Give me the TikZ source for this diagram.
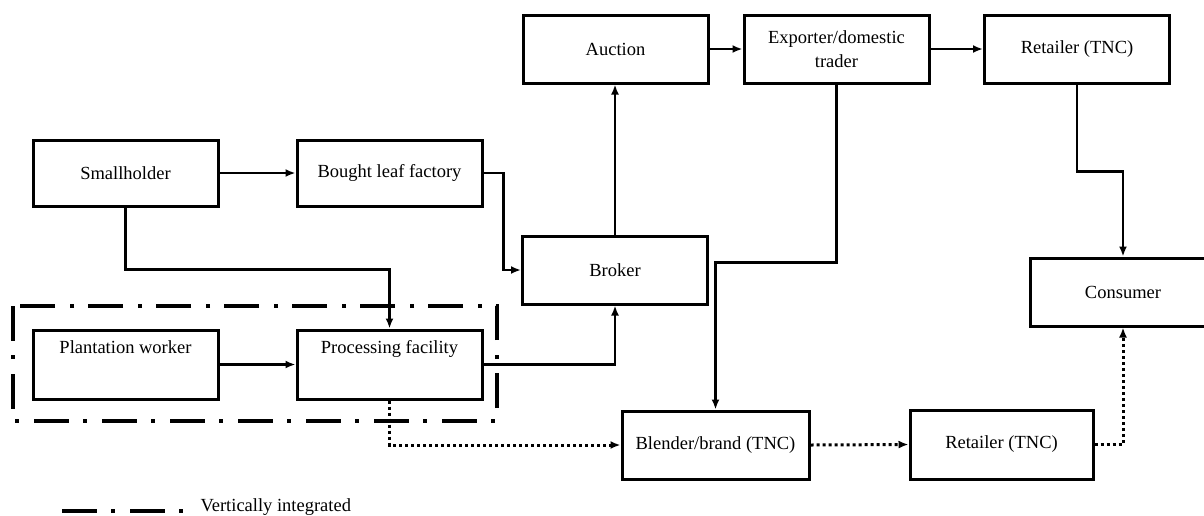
\documentclass[tikz,border=0pt]{standalone}
\usepackage{fontspec}
\setmainfont{Liberation Serif}
\usetikzlibrary{arrows.meta}
\begin{document}
\begin{tikzpicture}[x=1pt,y=-1pt,
  box/.style={draw, line width=3pt, minimum width=185pt, minimum height=68pt, inner sep=2pt, align=center, font=\fontsize{18.5}{24}\selectfont},
  conn/.style={line width=2.6pt, -{Latex[length=10pt,width=8pt]}},
  dotconn/.style={line width=3pt, dash pattern=on 3pt off 3pt, -{Latex[length=10pt,width=8pt]}},
  vint/.style={line width=4.5pt, dash pattern=on 35pt off 14pt on 4pt off 15pt},
  lbl/.style={font=\fontsize{18.5}{22}\selectfont, text height=13pt, text depth=4pt}]
\useasboundingbox (0,0) rectangle (1204,515);
\clip (0,0) rectangle (1204,515);
\fill[white] (0,0) rectangle (1204,515);

% boxes
\node[box, minimum height=66pt] (sh) at (125.5,173) {Smallholder};
\node[box, minimum height=66pt] (blf) at (389.5,173) {Bought leaf factory};
\node[box, minimum height=69pt, label={[lbl, anchor=north, yshift=-8pt]north:Plantation worker}] (pw) at (125.5,364.5) {};
\node[box, minimum height=69pt, label={[lbl, anchor=north, yshift=-8pt]north:Processing facility}] (pf) at (389.5,364.5) {};
\node[box] (br) at (615,270) {Broker};
\node[box] (au) at (615.5,49) {Auction};
\node[box] (ex) at (836.5,49) {Exporter/domestic\\trader};
\node[box] (rt) at (1077,49) {Retailer (TNC)};
\node[box, minimum width=186pt] (co) at (1123,292) {Consumer};
\node[box, minimum width=187pt] (bl) at (715.5,445) {Blender/brand (TNC)};
\node[box, minimum width=183pt, minimum height=69pt] (rb) at (1001.5,444.5) {Retailer (TNC)};

% vertically integrated frame
\draw[vint] (13,306) rectangle (497,421);

% connectors
\draw[conn] (sh.east) -- (blf.west);
\draw[conn] (blf.east) -- ++(20,0) |- (br.west);
\draw[conn] (sh.south) -- ++(0,62) -| (pf.north);
\draw[conn] (pw.east) -- (pf.west);
\draw[conn] (pf.east) -| (br.south);
\draw[conn] (br.north) -- (br.north |- au.south);
\draw[conn] (au.east) -- (ex.west);
\draw[conn] (ex.east) -- (rt.west);
\draw[conn] (rt.south) -- ++(0,87) -| (co.north);
\draw[conn] (ex.south) -- ++(0,178) -| (bl.north);
\draw[dotconn] (pf.south) |- (bl.west);
\draw[dotconn] (bl.east) -- (rb.west);
\draw[dotconn] (rb.east) -| (co.south);

% legend
\coordinate (l1) at (62,511);
\coordinate (l2) at (184,511);
\draw[vint] (l1) -- (l2);
\node[lbl, anchor=west] (leg) at (197,507) {Vertically integrated};
\end{tikzpicture}
\end{document}
